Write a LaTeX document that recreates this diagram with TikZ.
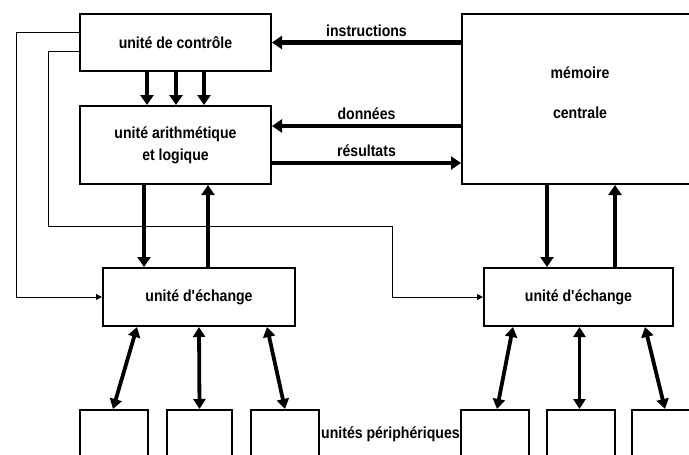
\documentclass[tikz,border=0pt]{standalone}
\usepackage{fontspec}
\setmainfont{Liberation Sans}[FakeStretch=0.88]
\usetikzlibrary{arrows.meta}
\begin{document}
\begin{tikzpicture}[x=1pt,y=-1pt,
  every node/.style={font=\fontsize{16}{22}\selectfont\bfseries},
  box/.style={draw, line width=2pt, inner sep=0pt, align=center},
  unitbox/.style={box, minimum width=191pt},
  periph/.style={box, minimum width=68pt, minimum height=90pt, anchor=north},
  flow/.style={line width=4.2pt, -{Triangle[length=10pt,width=13pt]}},
  duplex/.style={line width=3.8pt,
    {Triangle[length=10pt,width=12pt]}-{Triangle[length=10pt,width=12pt]}},
  wire/.style={line width=1pt, -{Triangle[length=6pt,width=6pt]}},
  tag/.style={inner sep=1pt}]
\useasboundingbox (0,0) rectangle (689,455);
\clip (0,0) rectangle (689,455);

% central processing units
\node[unitbox, minimum height=57pt] (ctrl) at (175.5,42.5) {unité de contrôle};
\node[unitbox, minimum height=78pt] (alu) at (175.5,145) {unité arithmétique\\et logique};
\node[box, minimum width=236pt, minimum height=170pt] (mem) at (580,99) {};
\node (memA) at (580,73) {mémoire};
\node (memB) at (580,113) {centrale};

% exchange units
\node[box, minimum width=192pt, minimum height=58pt] (ex1) at (199,297) {unité d\textquotesingle échange};
\node[box, minimum width=189pt, minimum height=58pt] (ex2) at (578.5,297) {unité d\textquotesingle échange};

% peripheral units
\node[periph] (p1) at (114,409) {};
\node[periph, minimum width=65pt] (p2) at (199.5,409) {};
\node[periph] (p3) at (285,409) {};
\node[periph] (p4) at (495,409) {};
\node[periph] (p5) at (581,409) {};
\node[periph] (p6) at (666,409) {};
\node[anchor=west, inner sep=0pt] (perlbl) at (321,434) {unités périphériques};

% control -> ALU
\draw[flow] ([xshift=-28.5pt]ctrl.south) -- ([xshift=-28.5pt]alu.north);
\draw[flow] ([xshift=0.5pt]ctrl.south) -- ([xshift=0.5pt]alu.north);
\draw[flow] ([xshift=28.5pt]ctrl.south) -- ([xshift=28.5pt]alu.north);

% memory <-> CPU
\draw[flow] (mem.west |- ctrl.east) -- (ctrl.east)
  node[tag, midway, above=3pt] (lblinstr) {instructions};
\draw[flow] ([yshift=-27pt]mem.west) -- ([yshift=19pt]alu.east)
  node[tag, midway, above=3pt] (lbldata) {données};
\draw[flow] ([yshift=-18pt]alu.east) -- ([yshift=-64pt]mem.west)
  node[tag, midway, above=3pt] (lblres) {résultats};

% ALU <-> exchange unit
\draw[flow] ([xshift=-31.5pt]alu.south) -- ([xshift=-55pt]ex1.north);
\draw[flow] ([xshift=9pt]ex1.north) -- ([xshift=32.5pt]alu.south);

% memory <-> exchange unit
\draw[flow] ([xshift=-33pt]mem.south) -- ([xshift=-31.5pt]ex2.north);
\draw[flow] ([xshift=36.5pt]ex2.north) -- ([xshift=35pt]mem.south);

% exchange units <-> peripherals
\draw[duplex] ([xshift=-62pt]ex1.south) -- ([xshift=-1pt]p1.north);
\draw[duplex] (ex1.south) -- (p2.north);
\draw[duplex] ([xshift=68pt]ex1.south) -- (p3.north);
\draw[duplex] ([xshift=-65.5pt]ex2.south) -- ([xshift=2pt]p4.north);
\draw[duplex] ([xshift=1pt]ex2.south) -- ([xshift=-1.5pt]p5.north);
\draw[duplex] ([xshift=66.5pt]ex2.south) -- ([xshift=-1pt]p6.north);

% control lines
\coordinate (busA) at (16,0);
\coordinate (busB) at (48,226);
\coordinate (busC) at (392,0);
\draw[wire] ([yshift=10.5pt]ctrl.west) -| (busA |- ex1.west) -- (ex1.west);
\draw[wire] ([yshift=-8.5pt]ctrl.west) -| (busB) -| (busC |- ex2.west) -- (ex2.west);
\end{tikzpicture}
\end{document}
